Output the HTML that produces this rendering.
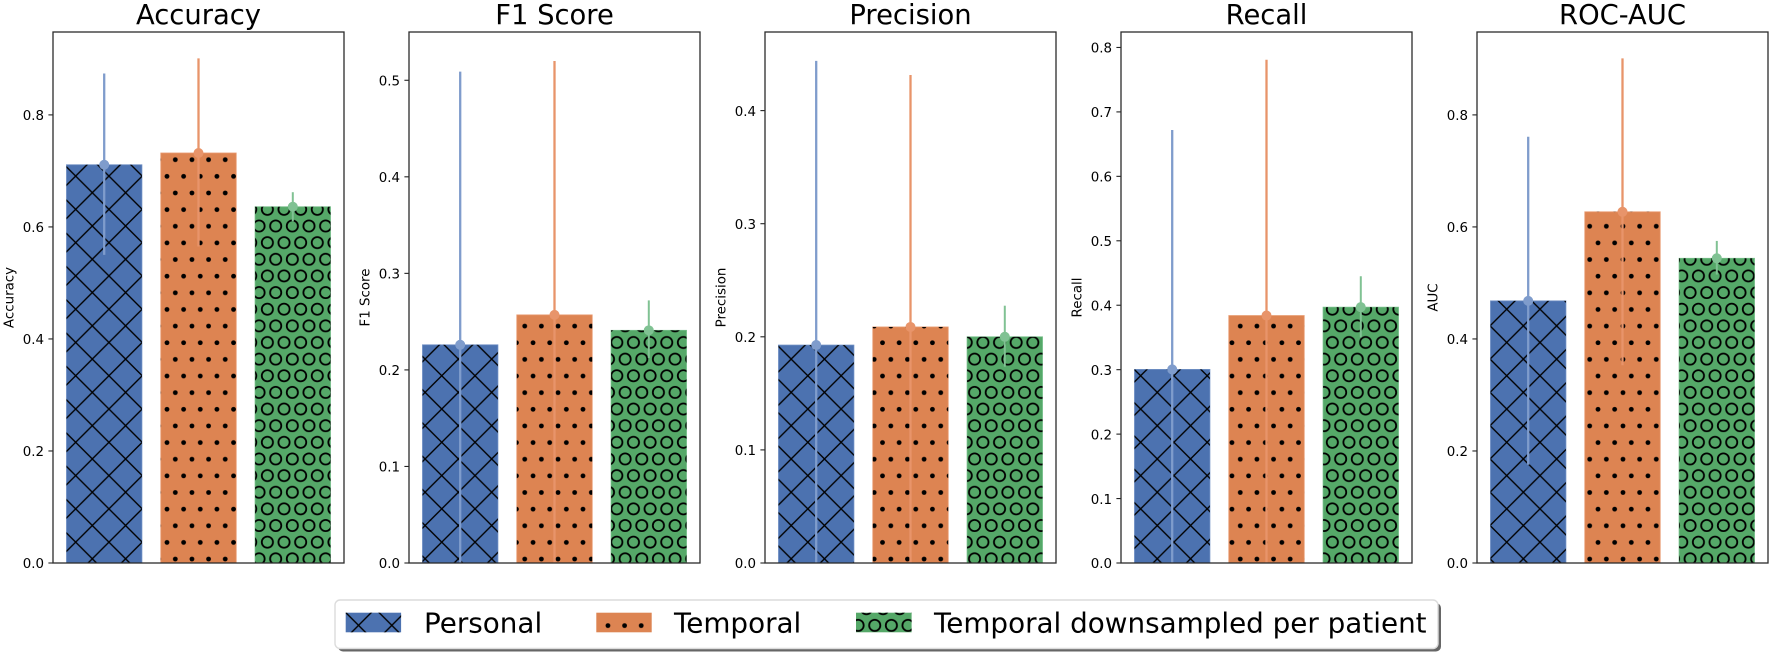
<!DOCTYPE html>
<html lang="en">
<head>
<meta charset="utf-8">
<title>Model metrics comparison</title>
<style>
  html, body { margin: 0; padding: 0; background: #fff; }
  body { width: 1772px; height: 656px; overflow: hidden; }
  svg { display: block; font-family: "DejaVu Sans", "Liberation Sans", sans-serif; }
</style>
</head>
<body>
<svg id="chart" xmlns="http://www.w3.org/2000/svg" width="1772" height="656" viewBox="0 0 1772 656">
  <defs>
    <pattern id="hatch-cross" patternUnits="userSpaceOnUse" x="92.3" y="192.7" width="33.28" height="33.28">
      <line x1="-1" y1="-1" x2="34.28" y2="34.28" stroke="#000" stroke-width="1.35"/>
      <line x1="-1" y1="34.28" x2="34.28" y2="-1" stroke="#000" stroke-width="1.35"/>
    </pattern>
    <pattern id="hatch-dots" patternUnits="userSpaceOnUse" x="175.3" y="159.7" width="16.64" height="33.28">
      <circle cx="0" cy="0" r="2.4" fill="#000"/>
      <circle cx="16.64" cy="0" r="2.4" fill="#000"/>
      <circle cx="0" cy="33.28" r="2.4" fill="#000"/>
      <circle cx="16.64" cy="33.28" r="2.4" fill="#000"/>
      <circle cx="8.32" cy="16.64" r="2.4" fill="#000"/>
    </pattern>
    <pattern id="hatch-rings" patternUnits="userSpaceOnUse" x="275.7" y="226" width="16.64" height="33.28">
      <g fill="none" stroke="#000" stroke-width="1.8">
        <circle cx="0" cy="0" r="5.6"/>
        <circle cx="16.64" cy="0" r="5.6"/>
        <circle cx="0" cy="33.28" r="5.6"/>
        <circle cx="16.64" cy="33.28" r="5.6"/>
        <circle cx="8.32" cy="16.64" r="5.6"/>
      </g>
    </pattern>
  </defs>

  <g id="panels"></g>

  <g>
    <rect x="338" y="603" width="1103" height="48.5" rx="5" fill="#666"/>
    <rect x="335" y="600" width="1103" height="48.5" rx="5" fill="#fff" stroke="#dcdcdc" stroke-width="1.4"/>
    <g>
      <rect x="345.7" y="612.7" width="55.4" height="19.6" fill="#4c72b0"/>
      <rect x="345.7" y="612.7" width="55.4" height="19.6" fill="url(#hatch-cross)"/>
      <text x="424" y="632.5" font-size="27.8" fill="#000">Personal</text>
    </g>
    <g>
      <rect x="596.3" y="612.7" width="55.4" height="19.6" fill="#dd8452"/>
      <rect x="596.3" y="612.7" width="55.4" height="19.6" fill="url(#hatch-dots)"/>
      <text x="674" y="632.5" font-size="27.8" fill="#000">Temporal</text>
    </g>
    <g>
      <rect x="856" y="612.7" width="55.6" height="19.6" fill="#55a868"/>
      <rect x="856" y="612.7" width="55.6" height="19.6" fill="url(#hatch-rings)"/>
      <text x="934" y="632.5" font-size="27.8" fill="#000">Temporal downsampled per patient</text>
    </g>
  </g>
</svg>

<script>
// ---- chart data ----
const panelTitles = ["Accuracy", "F1 Score", "Precision", "Recall", "ROC-AUC"];
const yAxisTitles = ["Accuracy", "F1 Score", "Precision", "Recall", "AUC"];
const seriesNames = ["Personal", "Temporal", "Temporal downsampled per patient"];

const personalMean = [0.711, 0.226, 0.1927, 0.3004, 0.468];
const personalUpper = [0.874, 0.509, 0.444, 0.672, 0.761];
const personalLower = [0.550, -0.057, -0.059, -0.071, 0.1755];

const temporalMean = [0.732, 0.257, 0.2087, 0.384, 0.627];
const temporalUpper = [0.901, 0.520, 0.4315, 0.781, 0.901];
const temporalLower = [0.565, -0.005, -0.014, -0.011, 0.353];

const downsampledMean = [0.636, 0.241, 0.200, 0.397, 0.544];
const downsampledUpper = [0.662, 0.272, 0.2275, 0.445, 0.575];
const downsampledLower = [0.610, 0.2124, 0.1736, 0.350, 0.515];

const yAxisMax = [0.948, 0.550, 0.4695, 0.824, 0.948];

const accuracyTicks = ["0.0", "0.2", "0.4", "0.6", "0.8"];
const f1Ticks = ["0.0", "0.1", "0.2", "0.3", "0.4", "0.5"];
const precisionTicks = ["0.0", "0.1", "0.2", "0.3", "0.4"];
const recallTicks = ["0.0", "0.1", "0.2", "0.3", "0.4", "0.5", "0.6", "0.7", "0.8"];
const aucTicks = ["0.0", "0.2", "0.4", "0.6", "0.8"];

// ---- layout and styles ----
const SVG_NS = "http://www.w3.org/2000/svg";
const root = document.getElementById("panels");
const panelLefts = [53, 409, 765, 1121, 1477];
const panelWidth = 291;
const plotTop = 32;
const plotBottom = 563;
const barWidthUnits = 0.8;
const xMin = -0.543;
const xMax = 2.543;
const seriesMeans = [personalMean, temporalMean, downsampledMean];
const seriesUppers = [personalUpper, temporalUpper, downsampledUpper];
const seriesLowers = [personalLower, temporalLower, downsampledLower];
const tickSets = [accuracyTicks, f1Ticks, precisionTicks, recallTicks, aucTicks];
const barColors = ["#4c72b0", "#dd8452", "#55a868"];
const barEdges = ["#6f8fc4", "#e89a70", "#74bd88"];
const errorColors = ["#7f9ccc", "#e8946a", "#80c293"];
const hatchIds = ["hatch-cross", "hatch-dots", "hatch-rings"];
const errorWidths = [2.3, 2.3, 2];

function shape(tag, attrs, parent) {
  const node = document.createElementNS(SVG_NS, tag);
  for (const key in attrs) node.setAttribute(key, attrs[key]);
  parent.appendChild(node);
  return node;
}

function slug(text) {
  return text.toLowerCase().replace(/[^a-z0-9]+/g, "-");
}

panelTitles.forEach(function (title, p) {
  const left = panelLefts[p];
  const right = left + panelWidth;
  const key = slug(title);

  const xScale = function (x) {
    return left + (x - xMin) / (xMax - xMin) * panelWidth;
  };
  const yScale = function (v) {
    return plotBottom - v / yAxisMax[p] * (plotBottom - plotTop);
  };

  const group = shape("g", {}, root);
  
  

  const clip = shape("clipPath", { id: "clip-" + key }, group);
  shape("rect", { x: left, y: plotTop, width: panelWidth, height: plotBottom - plotTop }, clip);

  const titleEl = shape("text", {
    x: (left + right) / 2, y: 24, "text-anchor": "middle", "font-size": 27.4, fill: "#000"
  }, group);
  titleEl.textContent = title;
  
  

  const yTitleX = left - 39.5;
  const yTitleEl = shape("text", {
    x: yTitleX, y: 297.5, "text-anchor": "middle", "font-size": 13.4, fill: "#000",
    transform: "rotate(-90 " + yTitleX + " 297.5)"
  }, group);
  yTitleEl.textContent = yAxisTitles[p];
  
  

  seriesNames.forEach(function (name, s) {
    const seriesKey = slug(name);
    const mean = seriesMeans[s][p];
    const cx = xScale(s);
    const barLeft = xScale(s - barWidthUnits / 2);
    const barRight = xScale(s + barWidthUnits / 2);
    const barTop = yScale(mean);
    const geometry = { x: barLeft, y: barTop, width: barRight - barLeft, height: yScale(0) - barTop };

    const bar = shape("rect", Object.assign({ fill: barColors[s], stroke: barEdges[s], "stroke-width": 0.8 }, geometry), group);
    
    

    const hatch = shape("rect", Object.assign({ fill: "url(#" + hatchIds[s] + ")" }, geometry), group);
    
    

    const err = shape("line", {
      x1: cx, x2: cx, y1: yScale(seriesUppers[s][p]), y2: yScale(seriesLowers[s][p]),
      stroke: errorColors[s], "stroke-width": errorWidths[s], "clip-path": "url(#clip-" + key + ")"
    }, group);
    
    

    const marker = shape("circle", { cx: cx, cy: yScale(mean), r: 5, fill: errorColors[s] }, group);
    
    
  });

  tickSets[p].forEach(function (label) {
    const y = yScale(parseFloat(label));
    const tick = shape("line", { x1: left - 4.6, x2: left, y1: y, y2: y, stroke: "#222", "stroke-width": 1.1 }, group);
    
    

    const tickLabel = shape("text", {
      x: left - 9, y: y + 5.2, "text-anchor": "end", "font-size": 13.4, fill: "#000"
    }, group);
    tickLabel.textContent = label;
    
    
  });

  const frame = shape("rect", {
    x: left, y: plotTop, width: panelWidth, height: plotBottom - plotTop,
    fill: "none", stroke: "#2b2b2b", "stroke-width": 1.3
  }, group);
  
  
});
</script>
</body>
</html>
